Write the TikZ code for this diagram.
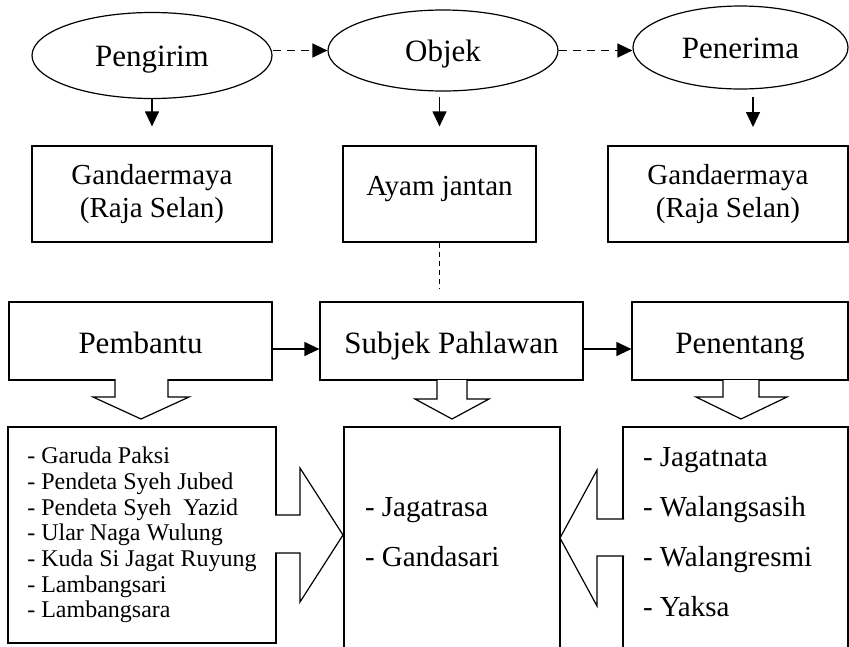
\documentclass[tikz,border=0pt]{standalone}
\usepackage{fontspec}
\setmainfont{Liberation Serif}
\usetikzlibrary{arrows.meta, shapes.geometric, calc}

\begin{document}
\begin{tikzpicture}[x=1pt, y=-1pt, line width=1.2pt,
    el/.style={ellipse, draw, inner sep=0pt, text height=21pt, text depth=0pt, font=\fontsize{31}{36}\selectfont},
    bx/.style={rectangle, draw, inner sep=0pt, font=\fontsize{29}{33}\selectfont},
    hd/.style={rectangle, draw, inner sep=0pt, minimum height=78pt, text height=24pt, text depth=0pt, font=\fontsize{31}{36}\selectfont},
    lst/.style={inner sep=0pt, align=left, font=\fontsize{29}{50}\selectfont},
    arr/.style={-{Triangle[length=15pt, width=14pt]}},
    dsh/.style={arr, line width=1.6pt, dash pattern=on 8pt off 6pt},
    blk/.style={draw, fill=white}]
  \useasboundingbox (0,0) rectangle (849,646);
  \clip (0,0) rectangle (849,646);

  % baris atas
  \node[el, minimum width=240pt, minimum height=86pt] (pengirim) at (152,55.5) {Pengirim};
  \node[el, minimum width=230pt, minimum height=81pt] (objek) at (443,50.5) {Objek};
  \node[el, minimum width=215pt, minimum height=83pt] (penerima) at (740.5,47.5) {Penerima};
  \draw[dsh] (pengirim.east |- objek.west) -- (objek.west);
  \draw[dsh] (objek.east) -- (objek.east -| penerima.west);

  \node[bx, minimum width=240pt, minimum height=96pt, align=center] (raja1) at (152,194) {Gandaermaya\\(Raja Selan)};
  \node[bx, minimum width=193pt, minimum height=96pt, text depth=17pt] (ayam) at (439.5,194) {Ayam jantan};
  \node[bx, minimum width=240pt, minimum height=96pt, align=center] (raja2) at (728,194) {Gandaermaya\\(Raja Selan)};

  \coordinate (t3) at (753,127);
  \draw[arr] (pengirim.south) -- (raja1.north) [shorten >=19pt];
  \draw[arr, shorten <=5pt, shorten >=19pt] (ayam.north |- objek.south) -- (ayam.north);
  \draw[arr, shorten <=7pt] (t3 |- penerima.south) -- (t3);

  % aktan
  \node[hd, minimum width=263pt] (pembantu) at (140.5,341) {Pembantu};
  \node[hd, minimum width=263pt] (subjek) at (451.5,341) {Subjek Pahlawan};
  \node[hd, minimum width=216pt] (penentang) at (740,341) {Penentang};
  \draw[line width=1.3pt, dash pattern=on 5pt off 4pt, shorten >=12pt] (ayam.south) -- (ayam.south |- subjek.north);
  \draw[arr] ([yshift=-8pt]pembantu.east) -- ([yshift=-8pt]subjek.west);
  \draw[arr] ([yshift=-8pt]subjek.east) -- ([yshift=-8pt]penentang.west);

  \node[bx, minimum width=268pt, minimum height=216pt, align=left, font=\fontsize{24}{25.7}\selectfont] (bantu) at (142,535)
    {- Garuda Paksi\\- Pendeta Syeh Jubed\\- Pendeta Syeh\ \ Yazid\\- Ular Naga Wulung\\- Kuda Si Jagat Ruyung\\- Lambangsari\\- Lambangsara};
  \node[bx, minimum width=216pt, minimum height=260pt] (pahlawan) at (452,557) {};
  \node[bx, minimum width=225pt, minimum height=260pt] (lawan) at (735.5,557) {};

  % panah blok
  \draw[blk] (115,379) -- (115,397) -- (93,397) -- (141,419) -- (189,397) -- (168,397) -- (168,379);
  \draw[blk] (437,380) -- (437,399) -- (415,399) -- (452,419) -- (489,399) -- (467,399) -- (467,380);
  \draw[blk] (723,380) -- (723,397) -- (696,397) -- (741,419) -- (787,397) -- (759,397) -- (759,380);
  \draw[blk] (275,515) -- (300,515) -- (300,468) -- (343,535) -- (300,602) -- (300,553) -- (275,553);
  \draw[blk] (624,519) -- (597,519) -- (597,470) -- (560,538) -- (597,606) -- (597,556) -- (624,556);

  \node[lst, anchor=north west] (pahlawantxt) at ([xshift=21pt, yshift=-71pt]pahlawan.north west) {- Jagatrasa\\- Gandasari};
  \node[lst, anchor=north west] (lawantxt) at ([xshift=20pt, yshift=-21pt]lawan.north west) {- Jagatnata\\- Walangsasih\\- Walangresmi\\- Yaksa};
\end{tikzpicture}
\end{document}
